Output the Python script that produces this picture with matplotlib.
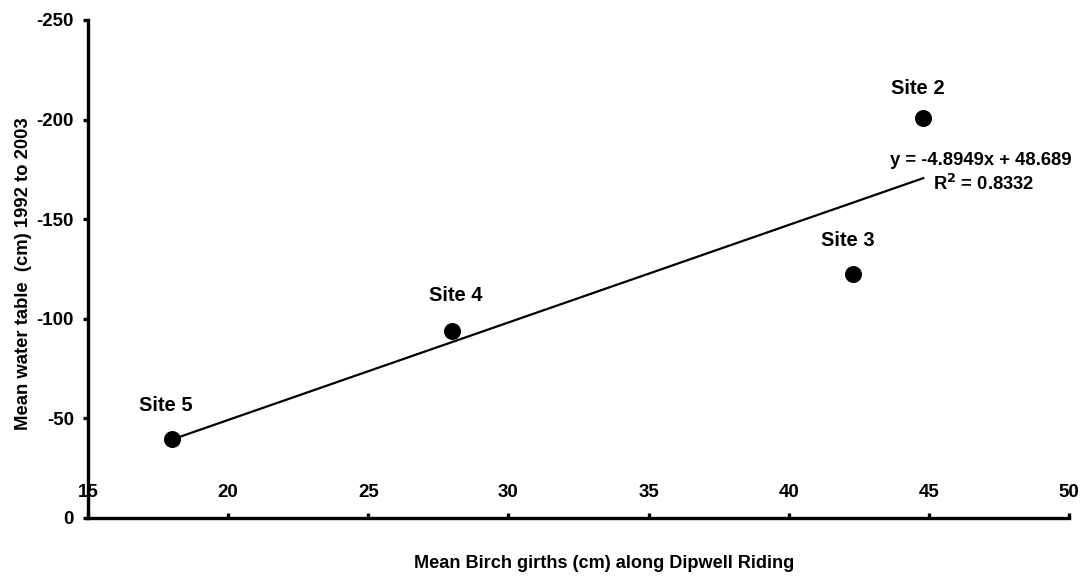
import matplotlib
matplotlib.use("Agg")
import matplotlib.pyplot as plt
import numpy as np

plt.rcParams['font.family'] = ['Liberation Sans', 'DejaVu Sans']
plt.rcParams['font.weight'] = 'bold'

sites = ["Site 2", "Site 3", "Site 4", "Site 5"]
girth = [44.8, 42.3, 28.0, 18.0]
water = [-200.9, -122.4, -93.8, -39.6]
slope = -4.8949
intercept = 48.689
r2 = 0.8332
x_ticks = [15, 20, 25, 30, 35, 40, 45, 50]
y_ticks = [0, -50, -100, -150, -200, -250]

W, H = 1082, 578
fig = plt.figure(figsize=(W / 100, H / 100), dpi=100)
ax = fig.add_axes([88 / W, 1 - 518 / H, (1069 - 88) / W, (518 - 20) / H])

ax.scatter(girth, water, s=150, color='black', zorder=3, linewidths=0)
xl = np.array([min(girth), max(girth)])
ax.plot(xl, slope * xl + intercept, color='black', lw=1.6, zorder=2)

# label offsets in pixels (dx, dy) relative to point
label_off = {"Site 2": (-5, 29), "Site 3": (-5, 34), "Site 4": (3, 36), "Site 5": (-6, 34)}
for s, x, y in zip(sites, girth, water):
    dx, dy = label_off[s]
    ax.annotate(s, (x, y), xytext=(dx, dy), textcoords='offset pixels',
                ha='center', va='center', fontsize=14.5, fontweight='bold')

end = (max(girth), slope * max(girth) + intercept)
ax.annotate(f"y = {slope}x + {intercept}", end,
            xytext=(-33, 18), textcoords='offset pixels', ha='left', va='center',
            fontsize=13.2, fontweight='bold')
ax.annotate(f"R$^\\mathbf{{2}}$ = {r2}", end,
            xytext=(10, -6), textcoords='offset pixels', ha='left', va='center',
            fontsize=13.2, fontweight='bold')

ax.set_xlim(15, 50)
ax.set_ylim(0, -250)
ax.set_xticks(x_ticks)
ax.set_yticks(y_ticks)
ax.set_xticklabels([str(t) for t in x_ticks], fontsize=13.5, fontweight='bold')
ax.set_yticklabels([str(t) for t in y_ticks], fontsize=13.5, fontweight='bold')
ax.tick_params(axis='x', direction='in', length=3.5, width=2.4, pad=-24.3)
ax.tick_params(axis='y', direction='out', length=3.5, width=2.4, pad=6.5)

for side in ['top', 'right']:
    ax.spines[side].set_visible(False)
for side in ['left', 'bottom']:
    ax.spines[side].set_linewidth(2.4)

fig.text(604 / W, 1 - 564 / H, "Mean Birch girths (cm) along Dipwell Riding", ha='center', va='center',
         fontsize=13.1, fontweight='bold')
fig.text(24 / W, 1 - 274 / H, "Mean water table  (cm) 1992 to 2003", ha='center', va='center',
         rotation=90, fontsize=13.3, fontweight='bold')

fig.savefig("out.png", dpi=100)
